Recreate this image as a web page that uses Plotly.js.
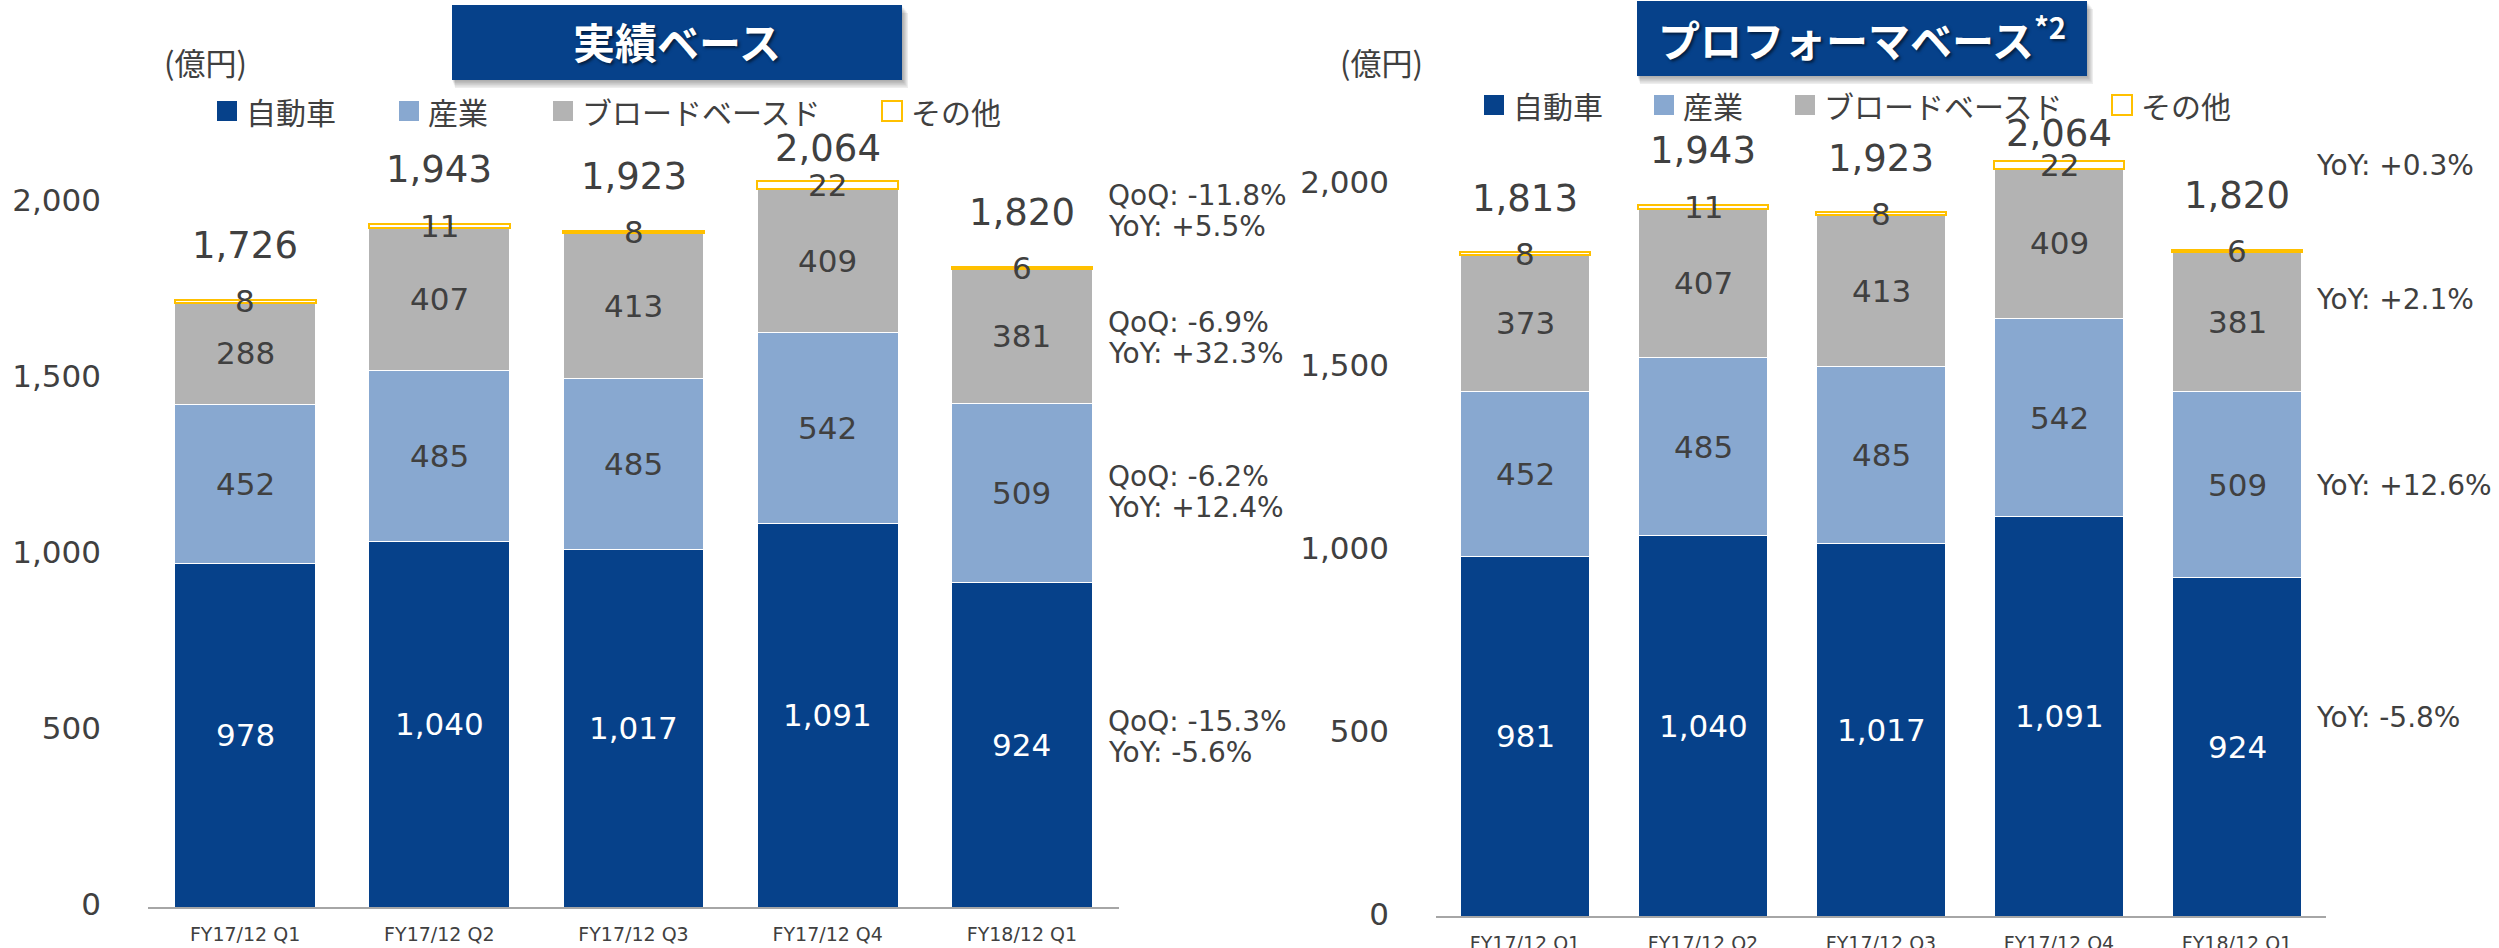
<!DOCTYPE html>
<html>
<head>
<meta charset="utf-8">
<script src="https://cdn.plot.ly/plotly-3.0.1.min.js"></script>
<style>
html,body{margin:0;padding:0;background:#ffffff;}
#chart{width:2499px;height:948px;}
</style>
</head>
<body>
<div id="chart"></div>
<script>
// ---------------- data ----------------
const categories = ["FY17/12 Q1", "FY17/12 Q2", "FY17/12 Q3", "FY17/12 Q4", "FY18/12 Q1"];
const seriesNames = ["自動車", "産業", "ブロードベースド", "その他"];

const actualAuto = [978, 1040, 1017, 1091, 924];
const actualIndustrial = [452, 485, 485, 542, 509];
const actualBroad = [288, 407, 413, 409, 381];
const actualOther = [8, 11, 8, 22, 6];
const actualTotal = [1726, 1943, 1923, 2064, 1820];

const proformaAuto = [981, 1040, 1017, 1091, 924];
const proformaIndustrial = [452, 485, 485, 542, 509];
const proformaBroad = [373, 407, 413, 409, 381];
const proformaOther = [8, 11, 8, 22, 6];
const proformaTotal = [1813, 1943, 1923, 2064, 1820];

// growth notes for the latest quarter (total, broad-based, industrial, automotive)
const actualQoQ = ["QoQ: -11.8%", "QoQ: -6.9%", "QoQ: -6.2%", "QoQ: -15.3%"];
const actualYoY = ["YoY: +5.5%", "YoY: +32.3%", "YoY: +12.4%", "YoY: -5.6%"];
const proformaYoY = ["YoY: +0.3%", "YoY: +2.1%", "YoY: +12.6%", "YoY: -5.8%"];

const yTicks = [0, 500, 1000, 1500, 2000];
const unitLabel = "(億円)";
const actualTitle = "実績ベース";
const proformaTitle = "プロフォーマベース<sup>*2</sup>";

// ---------------- styling ----------------
const W = 2499, H = 948;
const colors = ["#06418A", "#88A8D0", "#B3B3B3", "#FFFFFF"];
const lineColors = ["#FFFFFF", "#FFFFFF", "#FFFFFF", "#FFC000"];
const lineWidths = [1, 1, 1, 2];
const labelColors = ["#FFFFFF", "#404040", "#404040", "#404040"];
const TXT = "#404040";
const NUMFONT = "DejaVu Sans";
const JPFONT = "Noto Sans CJK JP";

const px = x => x / W;
const py = y => 1 - y / H;
const fmt = v => v.toLocaleString("en-US");

const charts = [
  {
    xa: "x", ya: "y", zeroPx: 907, ppu: 0.3517, labelTopPx: 148,
    series: [actualAuto, actualIndustrial, actualBroad, actualOther],
    totals: actualTotal
  },
  {
    xa: "x2", ya: "y2", zeroPx: 916, ppu: 0.366, labelTopPx: 133,
    series: [proformaAuto, proformaIndustrial, proformaBroad, proformaOther],
    totals: proformaTotal
  }
];

const traces = [];
const annotations = [];
const shapes = [];
const TOTAL_GAP_PX = 54;

charts.forEach((c) => {
  c.series.forEach((vals, si) => {
    traces.push({
      type: "bar",
      x: categories,
      y: vals,
      name: seriesNames[si],
      xaxis: c.xa,
      yaxis: c.ya,
      marker: {color: colors[si], line: {color: lineColors[si], width: lineWidths[si]}},
      showlegend: false,
      hoverinfo: "skip"
    });
  });
  // segment labels
  const cum = categories.map(() => 0);
  c.series.forEach((vals, si) => {
    vals.forEach((v, i) => {
      annotations.push({
        xref: c.xa, yref: c.ya, x: categories[i], y: cum[i] + v / 2,
        text: fmt(v), showarrow: false, xanchor: "center", yanchor: "middle",
        font: {family: NUMFONT, size: 31, color: labelColors[si]}
      });
      cum[i] += v;
    });
  });
  // totals, kept inside the chart's label area (as the original chart does)
  const ceilingUnits = (c.zeroPx - c.labelTopPx) / c.ppu;
  const gapUnits = TOTAL_GAP_PX / c.ppu;
  c.totals.forEach((t, i) => {
    annotations.push({
      xref: c.xa, yref: c.ya, x: categories[i], y: Math.min(cum[i] + gapUnits, ceilingUnits),
      text: fmt(t), showarrow: false, xanchor: "center", yanchor: "middle",
      font: {family: NUMFONT, size: 37, color: TXT}
    });
  });
});

// growth notes
const noteFont = {family: NUMFONT, size: 28, color: TXT};
const actualNoteY = [211, 338, 492, 737];
actualQoQ.forEach((t, i) => {
  [[t, -15.5], [actualYoY[i], 15.5]].forEach(([s, d]) => {
    annotations.push({
      xref: "paper", yref: "paper", x: px(1106), y: py(actualNoteY[i] + d),
      text: s, showarrow: false, xanchor: "left", yanchor: "middle", align: "left",
      font: noteFont
    });
  });
});
const proformaNoteY = [166, 299, 486, 717];
proformaYoY.forEach((t, i) => {
  annotations.push({
    xref: "paper", yref: "paper", x: px(2314), y: py(proformaNoteY[i]),
    text: t, showarrow: false, xanchor: "left", yanchor: "middle", align: "left",
    font: noteFont
  });
});

// unit labels
[[162, 62], [1338, 62]].forEach(p => {
  annotations.push({
    xref: "paper", yref: "paper", x: px(p[0]), y: py(p[1]),
    text: unitLabel, showarrow: false, xanchor: "left", yanchor: "middle",
    font: {family: JPFONT, size: 31, color: TXT}
  });
});

// legends
function legend(xs, yc) {
  xs.forEach((x, si) => {
    shapes.push({
      type: "rect", xref: "paper", yref: "paper",
      x0: px(x), x1: px(x + 20), y0: py(yc + 10), y1: py(yc - 10),
      fillcolor: colors[si],
      line: {color: si === 3 ? "#FFC000" : colors[si], width: si === 3 ? 2 : 0}
    });
    annotations.push({
      xref: "paper", yref: "paper", x: px(x + 27), y: py(yc),
      text: seriesNames[si], showarrow: false, xanchor: "left", yanchor: "middle",
      font: {family: JPFONT, size: 30, color: TXT}
    });
  });
}
legend([217, 399, 553, 882], 111);
legend([1484, 1654, 1795, 2112], 105);

// title boxes
function titleBox(x0, y0, x1, y1, text, ty) {
  for (let k = 1; k <= 5; k++) {
    shapes.push({
      type: "rect", xref: "paper", yref: "paper",
      x0: px(x0 + k * 0.6), x1: px(x1 + k * 1.2), y0: py(y1 + k * 1.6), y1: py(y0 + k * 1.6),
      fillcolor: "rgba(0,0,0,0.07)", line: {width: 0}
    });
  }
  shapes.push({
    type: "rect", xref: "paper", yref: "paper",
    x0: px(x0), x1: px(x1), y0: py(y1), y1: py(y0),
    fillcolor: "#06418A", line: {width: 0}
  });
  annotations.push({
    xref: "paper", yref: "paper", x: px((x0 + x1) / 2), y: py(ty),
    text: text, showarrow: false, xanchor: "center", yanchor: "middle",
    font: {family: JPFONT, size: 42, color: "#FFFFFF", weight: 700, shadow: "2px 2px 3px rgba(0,0,0,0.55)"}
  });
}
titleBox(452, 5, 902, 80, "<b>" + actualTitle + "</b>", 40);
titleBox(1637, 1, 2087, 76, "<b>" + proformaTitle + "</b>", 37);

function xAxis(d0, d1, anchor) {
  return {
    domain: [px(d0), px(d1)], anchor: anchor,
    showline: true, linecolor: "#A6A6A6", linewidth: 2,
    ticks: "", showgrid: false, zeroline: false, fixedrange: true,
    ticklabelstandoff: 9,
    tickfont: {family: NUMFONT, size: 19, color: TXT}
  };
}
function yAxis(zeroPx, pxPerUnit, anchor, shift) {
  const top = zeroPx - 2400 * pxPerUnit;
  return {
    domain: [py(zeroPx), py(top)], anchor: anchor,
    range: [0, 2400], showline: false, showgrid: false, zeroline: false, ticks: "",
    tickvals: yTicks, tickformat: ",", fixedrange: true,
    ticklabelstandoff: 46, ticklabelshift: shift,
    tickfont: {family: NUMFONT, size: 31, color: TXT}
  };
}

const layout = {
  width: W, height: H,
  margin: {l: 0, r: 0, t: 0, b: 0},
  paper_bgcolor: "#FFFFFF", plot_bgcolor: "rgba(0,0,0,0)",
  barmode: "stack", bargap: 0.275,
  showlegend: false,
  xaxis: xAxis(148, 1119, "y"),
  yaxis: yAxis(907, 0.3517, "x", -3),
  xaxis2: xAxis(1436, 2326, "y2"),
  yaxis2: yAxis(916, 0.366, "x2", -2),
  shapes: shapes,
  annotations: annotations
};

Plotly.newPlot("chart", traces, layout, {displayModeBar: false, staticPlot: true});
</script>
</body>
</html>
